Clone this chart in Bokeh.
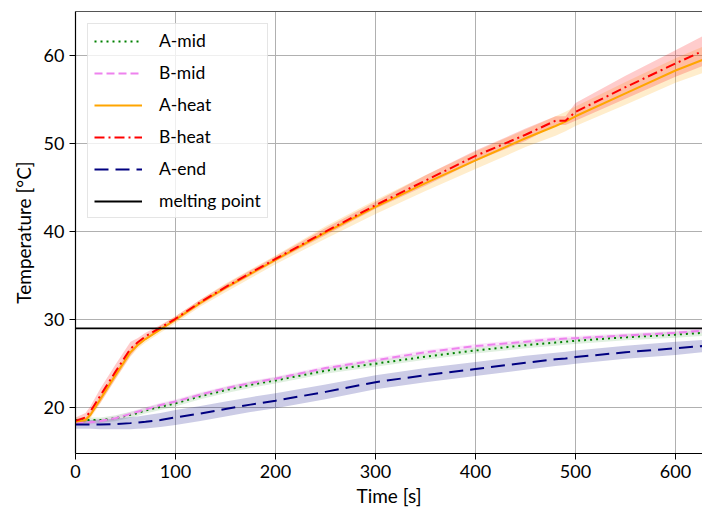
from bokeh.plotting import figure
from bokeh.models import LinearAxis, FixedTicker, Range1d
from bokeh.embed import file_html
from bokeh.resources import INLINE
import numpy as np

# ---- data ----
time_s = [0, 10, 15, 25, 40, 55, 62, 70, 85, 100, 125, 150, 175, 200, 250,
          300, 350, 400, 450, 480, 490, 500, 550, 600, 627]

a_mid = [18.6, 18.6, 18.6, 18.6, 18.8, 19.2, 19.4, 19.7, 20.1, 20.5, 21.3, 22.0,
         22.6, 23.1, 24.2, 25.0, 25.8, 26.5, 27.1, 27.4, 27.5, 27.6, 28.0, 28.3, 28.5]
a_mid_sd = [0.3] * 4 + [0.35] * 21

b_mid = [18.3, 18.3, 18.35, 18.5, 18.8, 19.3, 19.55, 19.8, 20.3, 20.7, 21.5, 22.2,
         22.8, 23.3, 24.5, 25.4, 26.3, 27.0, 27.5, 27.8, 27.85, 27.9, 28.2, 28.5, 28.75]
b_mid_sd = [0.25] * 25

a_heat = [18.4, 18.6, 19.2, 21.0, 23.7, 26.3, 27.1, 27.8, 28.9, 30.0, 31.9, 33.6,
          35.2, 36.8, 39.9, 42.8, 45.5, 48.1, 50.6, 52.0, 52.5, 53.1, 55.7, 58.3, 59.5]
a_heat_sd = [0.3, 0.3, 0.4, 0.5, 0.5, 0.5, 0.4, 0.4, 0.4, 0.4, 0.4, 0.5,
             0.5, 0.5, 0.7, 0.8, 0.9, 1.0, 1.0, 1.1, 1.1, 1.1, 1.3, 1.4, 1.5]

b_heat = [18.5, 18.9, 19.6, 21.4, 24.1, 26.7, 27.4, 28.1, 29.1, 30.1, 32.0, 33.7,
          35.3, 36.9, 40.0, 43.0, 45.8, 48.6, 51.0, 52.6, 52.6, 53.6, 56.4, 59.1, 60.5]
b_heat_sd = [0.4, 0.5, 0.6, 0.8, 0.8, 0.8, 0.5, 0.4, 0.3, 0.3, 0.3, 0.3,
             0.3, 0.3, 0.4, 0.4, 0.6, 0.6, 0.7, 0.5, 0.5, 1.0, 1.3, 1.5, 1.7]

a_end = [18.1, 18.1, 18.1, 18.1, 18.15, 18.25, 18.3, 18.4, 18.6, 18.9, 19.35, 19.85,
         20.35, 20.8, 21.8, 22.9, 23.7, 24.4, 25.1, 25.5, 25.6, 25.75, 26.3, 26.75, 27.0]
a_end_sd = [0.5, 0.5, 0.5, 0.55, 0.6, 0.7, 0.7, 0.75, 0.8, 0.85, 0.85, 0.85,
            0.85, 0.85, 0.85, 0.8, 0.8, 0.8, 0.8, 0.75, 0.75, 0.75, 0.75, 0.75, 0.7]

melting_point = 29.0

x_ticks = [0, 100, 200, 300, 400, 500, 600]
y_ticks = [20, 30, 40, 50, 60]

FONT = "Lato"

p = figure(width=702, height=513, output_backend="svg", toolbar_location=None,
           x_range=Range1d(0, 627), y_range=Range1d(14.8, 65.0),
           min_border_left=75, min_border_right=0, min_border_top=11,
           min_border_bottom=60)
p.background_fill_color = "white"
p.border_fill_color = "white"
p.outline_line_color = None

t = np.array(time_s)

def band(mean, sd, color, alpha):
    m = np.array(mean); s = np.array(sd)
    p.varea(x=t, y1=m - s, y2=m + s, fill_color=color, fill_alpha=alpha)

band(a_mid, a_mid_sd, "green", 0.12)
band(b_mid, b_mid_sd, "violet", 0.2)
band(a_heat, a_heat_sd, "orange", 0.2)
band(b_heat, b_heat_sd, "red", 0.2)
band(a_end, a_end_sd, "navy", 0.2)

p.line(t, a_mid, line_color="green", line_width=2, line_dash="2 4", legend_label="A-mid")
p.line(t, b_mid, line_color="violet", line_width=2, line_dash="8 4", legend_label="B-mid")
p.line(t, a_heat, line_color="orange", line_width=2, legend_label="A-heat")
p.line(t, b_heat, line_color="red", line_width=2, line_dash="10 4 2 4", legend_label="B-heat")
p.line(t, a_end, line_color="navy", line_width=2, line_dash="14 7", legend_label="A-end")
p.line([time_s[0], time_s[-1]], [melting_point, melting_point], line_color="black",
       line_width=1.8, legend_label="melting point")

# axes
for ax in (p.xaxis, p.yaxis):
    ax.axis_line_color = "black"
    ax.axis_line_width = 1.2
    ax.major_tick_line_color = "black"
    ax.major_tick_out = 6
    ax.major_tick_in = 0
    ax.minor_tick_line_color = None
    ax.major_label_text_font = FONT
    ax.major_label_text_font_size = "18px"
    ax.major_label_text_color = "black"
    ax.axis_label_text_font = FONT
    ax.axis_label_text_font_size = "19px"
    ax.axis_label_text_font_style = "normal"
    ax.axis_label_text_color = "black"
p.xaxis.ticker = FixedTicker(ticks=x_ticks)
p.yaxis.ticker = FixedTicker(ticks=y_ticks)
p.xaxis.axis_label = "Time [s]"
p.yaxis.axis_label = "Temperature [°C]"
p.xaxis.axis_label_standoff = 3
p.yaxis.axis_label_standoff = 6

top = LinearAxis(ticker=FixedTicker(ticks=[]), major_label_text_font_size="0px",
                 axis_line_color="#555555", axis_line_width=1.2,
                 major_tick_line_color=None, minor_tick_line_color=None)
p.add_layout(top, "above")

p.grid.grid_line_color = "#b0b0b0"
p.grid.grid_line_width = 1
p.xgrid.ticker = FixedTicker(ticks=x_ticks)
p.ygrid.ticker = FixedTicker(ticks=y_ticks)

lg = p.legend[0]
lg.location = "top_left"
lg.margin = 12
lg.padding = 6
lg.spacing = 11
lg.glyph_width = 48
lg.glyph_height = 20
lg.label_height = 20
lg.label_standoff = 17
lg.label_text_font = FONT
lg.label_text_font_size = "17.5px"
lg.label_text_color = "black"
lg.background_fill_color = "white"
lg.background_fill_alpha = 0.8
lg.border_line_color = "#cccccc"
lg.border_line_width = 1

open("out.html", "w").write(file_html(p, INLINE))
